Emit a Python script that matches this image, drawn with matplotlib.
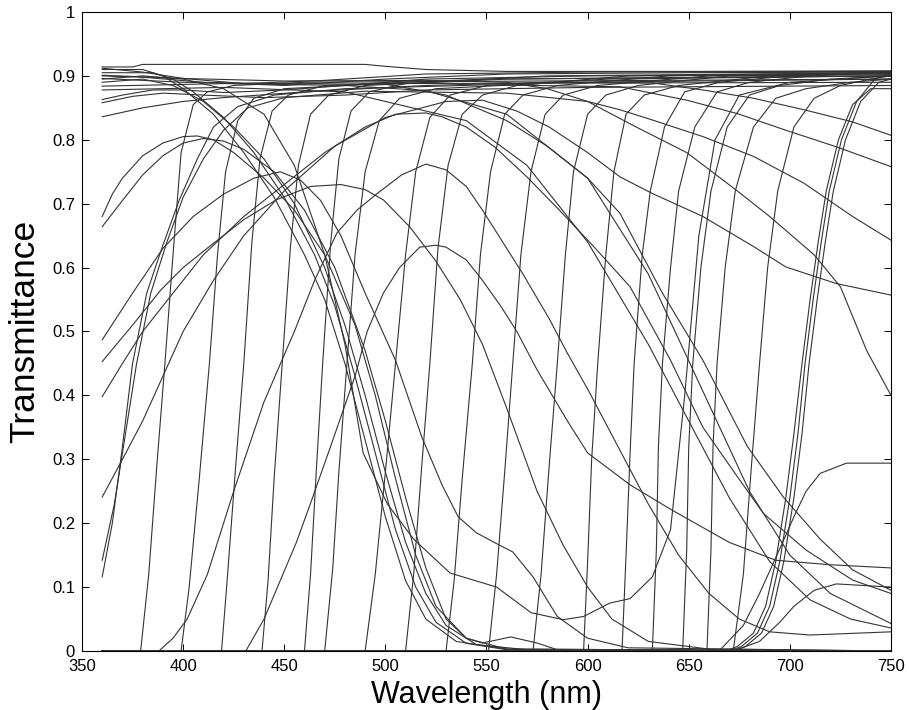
import numpy as np
import matplotlib
matplotlib.use("Agg")
import matplotlib.pyplot as plt

plt.rcParams["font.family"] = ["Liberation Sans", "DejaVu Sans"]

################################################################################
# Data: wavelength (nm) and transmittance per filter
################################################################################

# Long-pass (edge) filters
edge_curves = [
    ([360, 379, 383, 387, 391, 395, 399, 405, 412, 425, 460, 750], [0, 0, 0.12, 0.29, 0.45, 0.62, 0.78, 0.855, 0.875, 0.885, 0.89, 0.895]),
    ([360, 399, 403, 408, 413, 417, 421, 427, 435, 450, 500, 750], [0, 0, 0.10, 0.27, 0.45, 0.62, 0.75, 0.83, 0.865, 0.88, 0.888, 0.89]),
    ([360, 419, 422, 426, 430, 434, 438, 444, 452, 470, 550, 750], [0, 0, 0.12, 0.29, 0.45, 0.64, 0.77, 0.845, 0.87, 0.885, 0.895, 0.9]),
    ([360, 439, 442, 445, 449, 453, 457, 463, 472, 490, 560, 750], [0, 0, 0.11, 0.27, 0.45, 0.63, 0.76, 0.84, 0.87, 0.885, 0.895, 0.9]),
    ([360, 460, 463, 466, 469, 473, 477, 483, 492, 510, 580, 750], [0, 0, 0.12, 0.29, 0.45, 0.64, 0.77, 0.845, 0.875, 0.888, 0.9, 0.905]),
    ([360, 470, 474, 477, 481, 485, 490, 497, 507, 525, 590, 750], [0, 0, 0.13, 0.28, 0.45, 0.62, 0.75, 0.83, 0.865, 0.88, 0.89, 0.895]),
    ([360, 490, 495, 500, 505, 510, 515, 522, 532, 550, 610, 750], [0, 0, 0.12, 0.28, 0.45, 0.62, 0.75, 0.835, 0.87, 0.885, 0.895, 0.9]),
    ([360, 510, 514, 518, 522, 526, 531, 538, 548, 565, 620, 750], [0, 0, 0.12, 0.29, 0.45, 0.63, 0.76, 0.84, 0.87, 0.885, 0.9, 0.905]),
    ([360, 530, 534, 538, 543, 547, 552, 559, 568, 585, 640, 750], [0, 0, 0.11, 0.27, 0.45, 0.62, 0.75, 0.84, 0.87, 0.885, 0.9, 0.905]),
    ([360, 551, 555, 559, 563, 567, 572, 579, 588, 605, 660, 750], [0, 0, 0.12, 0.28, 0.45, 0.62, 0.75, 0.84, 0.87, 0.885, 0.9, 0.905]),
    ([360, 573, 577, 581, 585, 589, 593, 600, 609, 625, 670, 750], [0, 0, 0.12, 0.29, 0.45, 0.62, 0.75, 0.84, 0.87, 0.885, 0.9, 0.905]),
    ([360, 598, 600, 602, 605, 609, 613, 619, 628, 645, 690, 750], [0, 0, 0.14, 0.30, 0.45, 0.62, 0.75, 0.84, 0.87, 0.885, 0.9, 0.905]),
    ([360, 617, 619, 621, 623, 627, 631, 638, 648, 665, 700, 750], [0, 0, 0.15, 0.31, 0.45, 0.62, 0.72, 0.82, 0.875, 0.89, 0.9, 0.905]),
    ([360, 632, 634, 635, 637, 641, 645, 653, 664, 680, 710, 750], [0, 0, 0.16, 0.32, 0.45, 0.60, 0.72, 0.82, 0.875, 0.89, 0.9, 0.905]),
    ([360, 647, 649, 650, 652, 656, 661, 669, 680, 695, 720, 750], [0, 0, 0.16, 0.32, 0.45, 0.60, 0.72, 0.82, 0.87, 0.885, 0.895, 0.9]),
    ([360, 659, 661, 662, 664, 668, 673, 682, 693, 708, 730, 750], [0, 0, 0.16, 0.32, 0.45, 0.60, 0.72, 0.82, 0.865, 0.88, 0.89, 0.895]),
    ([360, 672, 677, 681, 685, 689, 694, 702, 712, 725, 740, 750], [0, 0, 0.12, 0.29, 0.45, 0.60, 0.72, 0.82, 0.865, 0.885, 0.895, 0.9]),
]

# the three near-infrared edges around 700 nm
ir_edge_curves = [
    ([360, 668, 674, 682, 688, 693, 698, 702, 706, 710, 714, 718, 724, 731, 740, 750],
     [0, 0, 0.007, 0.028, 0.07, 0.14, 0.24, 0.34, 0.45, 0.55, 0.64, 0.72, 0.80, 0.855, 0.88, 0.88]),
    ([360, 670, 676, 684, 690, 695, 700, 704, 707.5, 711.5, 715.5, 719.5, 725.5, 733, 742, 750],
     [0, 0, 0.007, 0.028, 0.07, 0.14, 0.24, 0.34, 0.45, 0.55, 0.64, 0.72, 0.80, 0.86, 0.895, 0.905]),
    ([360, 672, 678, 686, 692, 697, 702, 706, 709.5, 713.5, 717.5, 721.5, 727.5, 735, 744, 750],
     [0, 0, 0.007, 0.028, 0.07, 0.14, 0.24, 0.34, 0.45, 0.55, 0.64, 0.72, 0.80, 0.86, 0.89, 0.895]),
]

# near-flat high curves and curves that fall off slowly in the red
high_curves = [
    ([360, 375, 380, 490, 500, 520, 560, 650, 750], [0.914, 0.914, 0.918, 0.918, 0.915, 0.91, 0.907, 0.907, 0.908]),
    ([360, 380, 400, 430, 470, 520, 600, 750], [0.912, 0.906, 0.896, 0.888, 0.893, 0.903, 0.906, 0.907]),
    ([360, 380, 410, 450, 500, 560, 650, 750], [0.90, 0.898, 0.89, 0.885, 0.895, 0.903, 0.905, 0.906]),
    ([360, 370, 385, 400, 420, 450, 480, 520, 600, 750], [0.863, 0.87, 0.878, 0.878, 0.874, 0.878, 0.885, 0.895, 0.90, 0.902]),
    ([360, 375, 390, 410, 440, 480, 520, 600, 750], [0.858, 0.868, 0.873, 0.87, 0.866, 0.87, 0.878, 0.882, 0.885]),
    ([360, 380, 400, 420, 460, 520, 580, 632, 657, 682, 707, 731, 750], [0.836, 0.85, 0.86, 0.866, 0.875, 0.885, 0.89, 0.889, 0.878, 0.865, 0.847, 0.828, 0.807]),
    ([360, 400, 450, 520, 560, 580, 600, 624, 649, 674, 690, 712, 725, 738, 750], [0.901, 0.896, 0.892, 0.893, 0.89, 0.88, 0.86, 0.82, 0.78, 0.72, 0.68, 0.62, 0.57, 0.47, 0.40]),
    ([360, 400, 450, 500, 530, 560, 580, 600, 616, 637, 657, 679, 697, 715, 731, 750], [0.896, 0.89, 0.888, 0.887, 0.87, 0.83, 0.79, 0.74, 0.685, 0.56, 0.455, 0.32, 0.24, 0.175, 0.127, 0.095]),
    ([360, 420, 480, 500, 540, 570, 600, 630, 650, 670, 690, 710, 730, 750], [0.878, 0.882, 0.875, 0.86, 0.83, 0.76, 0.64, 0.48, 0.36, 0.24, 0.14, 0.08, 0.05, 0.036]),
    ([360, 420, 480, 520, 560, 600, 630, 655, 680, 700, 720, 750], [0.884, 0.888, 0.885, 0.877, 0.84, 0.74, 0.59, 0.42, 0.25, 0.15, 0.09, 0.043]),
]

# curves that start low in the UV and climb to a broad plateau
uv_rise_curves = [
    ([360, 365, 370, 375, 382, 390, 398, 407, 415, 427, 445, 480, 550, 616, 649, 674, 698, 723, 750],
     [0.116, 0.20, 0.32, 0.45, 0.56, 0.635, 0.705, 0.77, 0.82, 0.852, 0.87, 0.88, 0.886, 0.883, 0.862, 0.841, 0.815, 0.789, 0.758]),
    ([360, 366, 371, 377, 384, 392, 400, 410, 420, 432, 450, 490, 560, 600, 616, 632, 657, 682, 707, 731, 750],
     [0.142, 0.23, 0.33, 0.45, 0.56, 0.64, 0.71, 0.77, 0.815, 0.85, 0.866, 0.876, 0.873, 0.86, 0.847, 0.831, 0.805, 0.774, 0.732, 0.68, 0.643]),
    ([360, 370, 380, 390, 400, 415, 430, 450, 475, 500, 530, 548, 565, 581, 600, 616, 632, 657, 682, 698, 723, 750],
     [0.241, 0.30, 0.36, 0.43, 0.50, 0.58, 0.65, 0.72, 0.79, 0.835, 0.86, 0.862, 0.845, 0.82, 0.78, 0.742, 0.716, 0.68, 0.633, 0.601, 0.575, 0.557]),
]

# short-pass (blue) filters falling to zero around 500-540 nm
short_pass_curves = [
    ([360, 380, 390, 400, 415, 430, 445, 460, 470, 480, 490, 500, 510, 520, 535, 560, 750],
     [0.91, 0.91, 0.90, 0.88, 0.84, 0.78, 0.71, 0.62, 0.55, 0.45, 0.33, 0.21, 0.11, 0.05, 0.015, 0.003, 0]),
    ([360, 385, 395, 405, 420, 435, 450, 465, 475, 485, 495, 505, 515, 525, 540, 560, 750],
     [0.905, 0.905, 0.895, 0.875, 0.835, 0.78, 0.71, 0.62, 0.54, 0.43, 0.31, 0.19, 0.10, 0.045, 0.012, 0.002, 0]),
    ([360, 380, 395, 410, 425, 440, 455, 470, 480, 490, 500, 510, 520, 530, 545, 570, 750],
     [0.89, 0.895, 0.885, 0.86, 0.82, 0.77, 0.70, 0.60, 0.51, 0.40, 0.28, 0.17, 0.09, 0.04, 0.01, 0.002, 0]),
    ([360, 365, 370, 380, 390, 400, 407, 415, 425, 440, 455, 470, 485, 495, 505, 515, 525, 540, 560, 750],
     [0.68, 0.715, 0.74, 0.775, 0.795, 0.805, 0.806, 0.80, 0.78, 0.74, 0.69, 0.62, 0.51, 0.40, 0.27, 0.15, 0.07, 0.02, 0.003, 0]),
    ([360, 370, 380, 390, 400, 410, 420, 430, 445, 460, 475, 490, 500, 510, 520, 530, 540, 548, 562, 575, 585, 750],
     [0.664, 0.705, 0.745, 0.775, 0.795, 0.802, 0.798, 0.785, 0.75, 0.69, 0.60, 0.47, 0.36, 0.24, 0.13, 0.05, 0.02, 0.0125, 0.022, 0.0125, 0.002, 0]),
]

# broad band-pass filters
band_curves = [
    ([360, 375, 390, 405, 420, 435, 448, 458, 468, 478, 490, 505, 518, 528, 536, 545, 555, 563, 573, 585, 600, 620, 750],
     [0.487, 0.56, 0.63, 0.68, 0.715, 0.74, 0.75, 0.737, 0.705, 0.65, 0.56, 0.455, 0.335, 0.26, 0.21, 0.185, 0.168, 0.155, 0.116, 0.054, 0.02, 0.005, 0]),
    ([360, 375, 389, 400, 413, 430, 446, 463, 478, 490, 499, 512, 525, 537, 548, 560, 575, 588, 600, 612, 630, 660, 750],
     [0.453, 0.51, 0.565, 0.60, 0.633, 0.675, 0.706, 0.727, 0.73, 0.722, 0.706, 0.664, 0.61, 0.55, 0.48, 0.38, 0.25, 0.165, 0.10, 0.05, 0.015, 0.003, 0]),
    ([360, 370, 380, 395, 410, 430, 450, 470, 490, 505, 520, 528, 540, 554, 570, 586, 603, 621, 641, 657, 674, 687, 708, 731, 750],
     [0.398, 0.45, 0.50, 0.56, 0.62, 0.68, 0.73, 0.78, 0.82, 0.84, 0.842, 0.836, 0.82, 0.789, 0.742, 0.69, 0.633, 0.57, 0.455, 0.35, 0.273, 0.215, 0.158, 0.111, 0.09]),
    ([360, 388, 395, 402, 412, 425, 440, 455, 465, 476, 486, 496, 508, 520, 530, 540, 548, 558, 568, 581, 590, 600, 615, 630, 645, 660, 675, 690, 710, 750],
     [0, 0, 0.02, 0.05, 0.12, 0.25, 0.39, 0.50, 0.58, 0.654, 0.69, 0.716, 0.745, 0.762, 0.753, 0.727, 0.69, 0.64, 0.59, 0.52, 0.466, 0.41, 0.32, 0.23, 0.15, 0.09, 0.05, 0.03, 0.025, 0.03]),
    ([360, 431, 440, 448, 456, 464, 474, 485, 491, 499, 507, 517, 525, 530, 540, 548, 557, 565, 575, 590, 600, 621, 642, 670, 693, 720, 750],
     [0, 0, 0.05, 0.11, 0.17, 0.24, 0.33, 0.43, 0.50, 0.56, 0.60, 0.632, 0.635, 0.632, 0.612, 0.58, 0.54, 0.50, 0.44, 0.36, 0.31, 0.26, 0.22, 0.17, 0.142, 0.135, 0.13]),
    # magenta: blue band, dip in the green, red edge
    ([360, 380, 400, 420, 440, 455, 470, 480, 489, 501, 514, 532, 555, 572, 588, 598, 611, 621, 632, 641, 648, 655, 663, 675, 700, 750],
     [0.895, 0.9, 0.895, 0.88, 0.84, 0.76, 0.62, 0.48, 0.31, 0.23, 0.175, 0.122, 0.10, 0.06, 0.049, 0.054, 0.075, 0.082, 0.116, 0.19, 0.40, 0.65, 0.80, 0.87, 0.89, 0.9]),
]

# low near-infrared bumps at the bottom right
nir_low_curves = [
    ([360, 665, 677, 685, 695, 702, 708, 715, 728, 750], [0, 0, 0.04, 0.09, 0.16, 0.21, 0.25, 0.278, 0.294, 0.294]),
    ([360, 672, 685, 695, 702, 712, 723, 750], [0, 0, 0.015, 0.045, 0.07, 0.095, 0.105, 0.10]),
]

x_ticks = [350, 400, 450, 500, 550, 600, 650, 700, 750]
y_ticks = [0, 0.1, 0.2, 0.3, 0.4, 0.5, 0.6, 0.7, 0.8, 0.9, 1]
y_tick_labels = ["0", "0.1", "0.2", "0.3", "0.4", "0.5", "0.6", "0.7", "0.8", "0.9", "1"]

################################################################################
# Plotting
################################################################################

fig = plt.figure(figsize = (9.09, 7.10), dpi = 100)
ax = fig.add_axes([0.0902, 0.0831, 0.890, 0.900])

all_curves = edge_curves + ir_edge_curves + high_curves + uv_rise_curves + short_pass_curves + band_curves + nir_low_curves
for wl, t in all_curves:
    ax.plot(wl, t, color = "0.2", linewidth = 0.8)

ax.set_xlim(350, 750)
ax.set_ylim(0, 1)
ax.set_xticks(x_ticks)
ax.set_yticks(y_ticks)
ax.set_yticklabels(y_tick_labels)
ax.tick_params(direction = "in", length = 5, width = 0.7, top = True, right = True, labelsize = 12, pad = 5)
ax.tick_params(axis = "x", pad = 6)
for sp in ax.spines.values():
    sp.set_linewidth(0.8)

# x label: centred under the axes, baseline near the bottom of the figure
ax.set_xlabel("Wavelength (nm)", fontsize = 22, va = "baseline")
ax.xaxis.set_label_coords(0.5, (1 - 703 / 710 - 0.0831) / 0.900)
ax.set_ylabel("Transmittance", fontsize = 25.5, labelpad = 8)

fig.savefig("out.png", dpi = 100)
plt.close()
